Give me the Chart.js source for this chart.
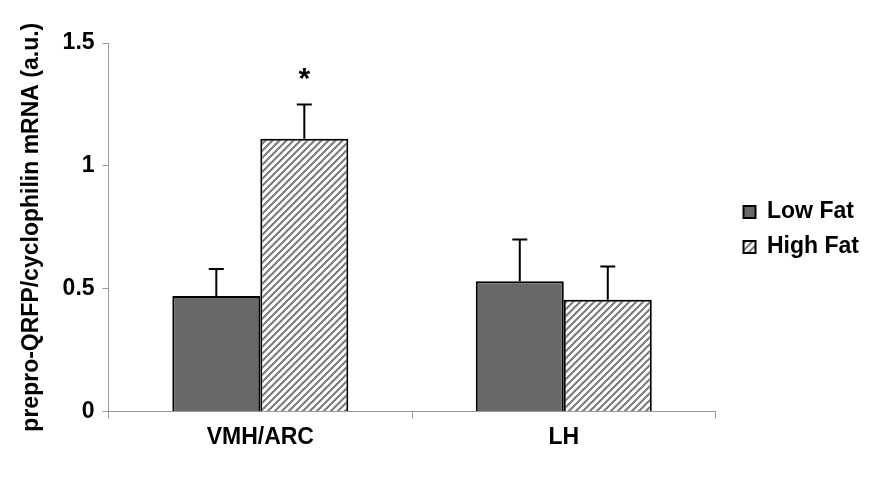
<!DOCTYPE html>
<html>
<head>
<meta charset="utf-8">
<script src="https://cdn.jsdelivr.net/npm/chart.js@4/dist/chart.umd.min.js"></script>
<style>
  html, body { margin: 0; padding: 0; background: #fff; }
  #wrap { width: 880px; height: 480px; }
</style>
</head>
<body>
<div id="wrap"><canvas id="myChart" width="880" height="480"></canvas></div>
<script>
const categories = ['VMH/ARC', 'LH'];
const lowFat = [0.47, 0.53];
const highFat = [1.11, 0.455];
const lowFatErr = [0.11, 0.17];
const highFatErr = [0.14, 0.135];
const highFatMarks = ['*', ''];
const yTicks = [0, 0.5, 1, 1.5];

const FONT = "'Liberation Sans', Arial, sans-serif";
const FS = 23;

// diagonal hatch for the high fat bars
function makeHatch() {
  const size = 7;
  const c = document.createElement('canvas');
  c.width = size; c.height = size;
  const g = c.getContext('2d');
  g.fillStyle = '#fff';
  g.fillRect(0, 0, size, size);
  g.strokeStyle = '#7a7a7a';
  g.lineWidth = 2;
  g.beginPath();
  g.moveTo(0, size); g.lineTo(size, 0);
  g.moveTo(-size, size); g.lineTo(size, -size);
  g.moveTo(0, 2 * size); g.lineTo(2 * size, 0);
  g.stroke();
  return g.createPattern(c, 'repeat');
}

const ctx = document.getElementById('myChart').getContext('2d');
const hatch = makeHatch();

const errorBars = {
  id: 'errorBars',
  afterDatasetsDraw(chart) {
    const c = chart.ctx;
    const y = chart.scales.y;
    const errs = [lowFatErr, highFatErr];
    const marks = [[], highFatMarks];
    c.save();
    chart.data.datasets.forEach((ds, di) => {
      const meta = chart.getDatasetMeta(di);
      meta.data.forEach((bar, i) => {
        const top = y.getPixelForValue(ds.data[i] + errs[di][i]);
        c.strokeStyle = '#000';
        c.lineWidth = 2;
        c.beginPath();
        c.moveTo(bar.x, bar.y);
        c.lineTo(bar.x, top);
        c.moveTo(bar.x - 7.5, top);
        c.lineTo(bar.x + 7.5, top);
        c.stroke();
        if (marks[di][i]) {
          c.fillStyle = '#000';
          c.font = 'bold 30px ' + FONT;
          c.textAlign = 'center';
          c.textBaseline = 'middle';
          c.fillText(marks[di][i], bar.x, top - 25);
        }
      });
    });
    c.restore();
  }
};

// leave a gap between the plot and the legend, and lift the legend a bit
const legendGap = {
  id: 'legendGap',
  afterInit(chart) {
    const lg = chart.legend;
    const fit = lg.fit;
    lg.fit = function () { fit.call(this); this.width += 16; };
  },
  afterLayout(chart) {
    chart.legend.left += 16;
    chart.legend.top -= 20;
    chart.legend.bottom -= 20;
  }
};

new Chart(ctx, {
  type: 'bar',
  data: {
    labels: categories,
    datasets: [{
      label: 'Low Fat',
      data: lowFat,
      backgroundColor: '#686868',
      borderColor: '#000',
      borderWidth: 2,
      categoryPercentage: 0.58,
      barPercentage: 1.0
    }, {
      label: 'High Fat',
      data: highFat,
      backgroundColor: hatch,
      borderColor: '#000',
      borderWidth: 2,
      categoryPercentage: 0.58,
      barPercentage: 1.0
    }]
  },
  options: {
    responsive: false,
    animation: false,
    layout: { padding: { top: 43, right: 11, bottom: 24, left: 18 } },
    plugins: {
      legend: {
        position: 'right',
        labels: {
          color: '#000',
          font: { family: FONT, size: FS, weight: 'bold' },
          boxWidth: 12,
          boxHeight: 12,
          padding: 12
        }
      },
      tooltip: { enabled: false }
    },
    scales: {
      x: {
        grid: { display: true, drawOnChartArea: false, color: '#999', tickLength: 7, offset: true },
        border: { color: '#999', width: 1 },
        ticks: { color: '#000', font: { family: FONT, size: FS, weight: 'bold' }, padding: 5 }
      },
      y: {
        min: 0,
        max: 1.5,
        afterBuildTicks(axis) { axis.ticks = yTicks.map(v => ({ value: v })); },
        grid: { display: true, drawOnChartArea: false, color: '#999', tickLength: 6 },
        border: { color: '#999', width: 1 },
        ticks: {
          color: '#000',
          font: { family: FONT, size: FS, weight: 'bold' },
          padding: 8,
          callback: v => String(v)
        },
        title: {
          display: true,
          text: 'prepro-QRFP/cyclophilin mRNA (a.u.)',
          color: '#000',
          font: { family: FONT, size: FS, weight: 'bold' },
          padding: { top: 0, bottom: 9 }
        }
      }
    }
  },
  plugins: [errorBars, legendGap]
});
</script>
</body>
</html>
